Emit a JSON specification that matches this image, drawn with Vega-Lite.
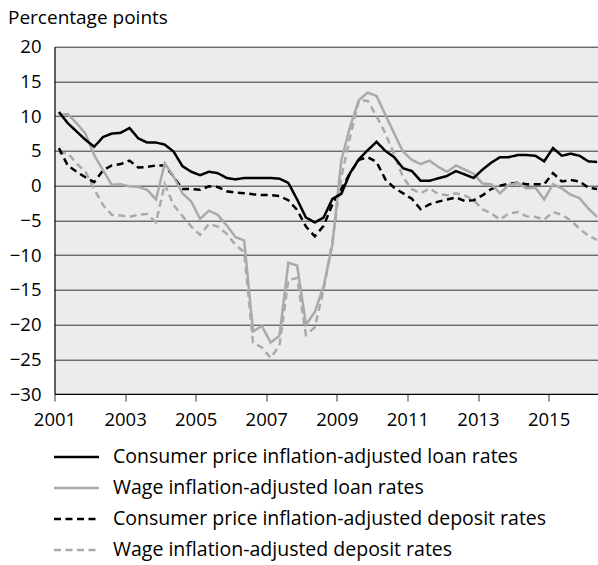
{
  "$schema": "https://vega.github.io/schema/vega-lite/v6.json",
  "autosize": {"type": "none"},
  "padding": {"top": 46.7, "left": 54.5, "right": 0, "bottom": 171},
  "width": 543.5,
  "height": 347.3,
  "background": "white",
  "config": {
    "font": "Open Sans",
    "view": {"fill": "#ececec", "stroke": null}
  },
  "data": {
    "values": [
      {"t": 2001.125, "cpl": 10.6, "wl": 10.2, "cpd": 5.4, "wd": 4.7},
      {"t": 2001.375, "cpl": 9.0, "wl": 10.3, "cpd": 2.9, "wd": 4.7},
      {"t": 2001.625, "cpl": 7.8, "wl": 9.0, "cpd": 2.0, "wd": 3.2},
      {"t": 2001.875, "cpl": 6.6, "wl": 7.5, "cpd": 1.2, "wd": 2.0},
      {"t": 2002.125, "cpl": 5.6, "wl": 4.4, "cpd": 0.5, "wd": -0.5},
      {"t": 2002.375, "cpl": 7.0, "wl": 2.2, "cpd": 2.2, "wd": -2.8},
      {"t": 2002.625, "cpl": 7.5, "wl": 0.1, "cpd": 2.9, "wd": -4.2},
      {"t": 2002.875, "cpl": 7.6, "wl": 0.2, "cpd": 3.1, "wd": -4.3},
      {"t": 2003.125, "cpl": 8.3, "wl": -0.1, "cpd": 3.6, "wd": -4.5},
      {"t": 2003.375, "cpl": 6.8, "wl": -0.2, "cpd": 2.6, "wd": -4.2},
      {"t": 2003.625, "cpl": 6.2, "wl": -0.6, "cpd": 2.7, "wd": -4.1},
      {"t": 2003.875, "cpl": 6.2, "wl": -2.0, "cpd": 2.9, "wd": -5.3},
      {"t": 2004.125, "cpl": 5.9, "wl": 3.2, "cpd": 2.9, "wd": 0.2},
      {"t": 2004.375, "cpl": 4.9, "wl": 1.3, "cpd": 1.3, "wd": -2.8},
      {"t": 2004.625, "cpl": 2.8, "wl": -1.1, "cpd": -0.5, "wd": -4.4},
      {"t": 2004.875, "cpl": 2.0, "wl": -2.3, "cpd": -0.5, "wd": -5.9},
      {"t": 2005.125, "cpl": 1.5, "wl": -4.8, "cpd": -0.6, "wd": -7.1},
      {"t": 2005.375, "cpl": 2.0, "wl": -3.6, "cpd": -0.1, "wd": -5.5},
      {"t": 2005.625, "cpl": 1.8, "wl": -4.2, "cpd": -0.2, "wd": -5.9},
      {"t": 2005.875, "cpl": 1.1, "wl": -5.7, "cpd": -0.8, "wd": -6.9},
      {"t": 2006.125, "cpl": 0.9, "wl": -7.4, "cpd": -1.0, "wd": -8.5},
      {"t": 2006.375, "cpl": 1.1, "wl": -7.9, "cpd": -1.1, "wd": -9.6},
      {"t": 2006.625, "cpl": 1.1, "wl": -21.0, "cpd": -1.25, "wd": -22.6},
      {"t": 2006.875, "cpl": 1.1, "wl": -20.2, "cpd": -1.35, "wd": -23.3},
      {"t": 2007.125, "cpl": 1.1, "wl": -22.6, "cpd": -1.35, "wd": -24.8},
      {"t": 2007.375, "cpl": 1.0, "wl": -21.6, "cpd": -1.5, "wd": -23.0},
      {"t": 2007.625, "cpl": 0.4, "wl": -11.1, "cpd": -2.1, "wd": -13.6},
      {"t": 2007.875, "cpl": -2.0, "wl": -11.5, "cpd": -3.5, "wd": -13.3},
      {"t": 2008.125, "cpl": -4.6, "wl": -20.0, "cpd": -5.9, "wd": -21.5},
      {"t": 2008.375, "cpl": -5.3, "wl": -18.2, "cpd": -7.3, "wd": -20.4},
      {"t": 2008.625, "cpl": -4.6, "wl": -14.5, "cpd": -5.8, "wd": -15.0},
      {"t": 2008.875, "cpl": -1.9, "wl": -8.5, "cpd": -2.7, "wd": -8.0},
      {"t": 2009.125, "cpl": -1.2, "wl": 3.6, "cpd": -0.5, "wd": 1.2},
      {"t": 2009.375, "cpl": 1.8, "wl": 8.5, "cpd": 1.8, "wd": 7.0},
      {"t": 2009.625, "cpl": 3.8, "wl": 12.3, "cpd": 3.7, "wd": 12.3},
      {"t": 2009.875, "cpl": 5.1, "wl": 13.4, "cpd": 4.1, "wd": 12.2},
      {"t": 2010.125, "cpl": 6.3, "wl": 12.9, "cpd": 3.4, "wd": 10.0},
      {"t": 2010.375, "cpl": 5.0, "wl": 10.2, "cpd": 0.9, "wd": 7.5},
      {"t": 2010.625, "cpl": 4.1, "wl": 7.5, "cpd": -0.3, "wd": 4.5},
      {"t": 2010.875, "cpl": 2.5, "wl": 4.9, "cpd": -1.1, "wd": 1.2},
      {"t": 2011.125, "cpl": 2.1, "wl": 3.7, "cpd": -1.9, "wd": -0.5},
      {"t": 2011.375, "cpl": 0.7, "wl": 3.1, "cpd": -3.4, "wd": -1.1},
      {"t": 2011.625, "cpl": 0.7, "wl": 3.6, "cpd": -2.7, "wd": -0.4},
      {"t": 2011.875, "cpl": 1.05, "wl": 2.7, "cpd": -2.3, "wd": -1.2},
      {"t": 2012.125, "cpl": 1.4, "wl": 2.0, "cpd": -2.0, "wd": -1.4},
      {"t": 2012.375, "cpl": 2.1, "wl": 2.9, "cpd": -1.7, "wd": -1.1},
      {"t": 2012.625, "cpl": 1.6, "wl": 2.3, "cpd": -2.2, "wd": -1.4},
      {"t": 2012.875, "cpl": 1.1, "wl": 1.7, "cpd": -2.1, "wd": -2.1},
      {"t": 2013.125, "cpl": 2.3, "wl": 0.3, "cpd": -1.4, "wd": -3.4},
      {"t": 2013.375, "cpl": 3.3, "wl": 0.2, "cpd": -0.5, "wd": -4.0},
      {"t": 2013.625, "cpl": 4.1, "wl": -1.1, "cpd": 0.0, "wd": -4.9},
      {"t": 2013.875, "cpl": 4.1, "wl": 0.1, "cpd": 0.3, "wd": -4.0},
      {"t": 2014.125, "cpl": 4.4, "wl": 0.4, "cpd": 0.4, "wd": -3.8},
      {"t": 2014.375, "cpl": 4.4, "wl": -0.4, "cpd": 0.2, "wd": -4.4},
      {"t": 2014.625, "cpl": 4.3, "wl": -0.3, "cpd": 0.2, "wd": -4.5},
      {"t": 2014.875, "cpl": 3.5, "wl": -2.0, "cpd": 0.2, "wd": -4.9},
      {"t": 2015.125, "cpl": 5.4, "wl": 0.2, "cpd": 1.8, "wd": -3.8},
      {"t": 2015.375, "cpl": 4.3, "wl": -0.4, "cpd": 0.6, "wd": -4.2},
      {"t": 2015.625, "cpl": 4.6, "wl": -1.3, "cpd": 0.8, "wd": -5.0},
      {"t": 2015.875, "cpl": 4.3, "wl": -1.8, "cpd": 0.6, "wd": -6.2},
      {"t": 2016.125, "cpl": 3.5, "wl": -3.3, "cpd": -0.3, "wd": -7.2},
      {"t": 2016.375, "cpl": 3.4, "wl": -4.5, "cpd": -0.5, "wd": -7.8}
    ]
  },
  "transform": [
    {"fold": ["cpl", "wl", "cpd", "wd"], "as": ["series", "value"]}
  ],
  "encoding": {
    "x": {
      "field": "t", "type": "quantitative",
      "scale": {"domain": [2001, 2016.4], "nice": false, "zero": false},
      "axis": {
        "values": [2001, 2003, 2005, 2007, 2009, 2011, 2013, 2015],
        "format": "d", "grid": false, "title": null,
        "domainColor": "#000", "domainWidth": 1.2,
        "tickColor": "#555", "tickSize": 7, "tickWidth": 1.2,
        "labelFontSize": 18.5, "labelColor": "#000", "labelPadding": 9,
        "labelFlush": false, "labelOverlap": false
      }
    },
    "y": {
      "field": "value", "type": "quantitative",
      "scale": {"domain": [-30, 20], "nice": false},
      "axis": {
        "values": [-30, -25, -20, -15, -10, -5, 0, 5, 10, 15, 20],
        "grid": true, "gridColor": "#333", "gridWidth": 1,
        "domainColor": "#000", "domainWidth": 1.2, "ticks": false,
        "labelFontSize": 18.5, "labelColor": "#000", "labelPadding": 13.5,
        "labelFlush": false, "labelOverlap": false,
        "title": "Percentage points", "titleAngle": 0, "titleAlign": "left",
        "titleBaseline": "alphabetic", "titleX": -47, "titleY": -23.5,
        "titleFontSize": 19, "titleFontWeight": "normal", "titleColor": "#000"
      }
    },
    "color": {
      "field": "series", "type": "nominal",
      "scale": {"domain": ["cpl", "wl", "cpd", "wd"], "range": ["#000000", "#aaaaaa", "#000000", "#aaaaaa"]},
      "legend": {
        "title": null, "orient": "none", "legendX": 11.5, "legendY": 399.8,
        "direction": "vertical", "padding": 0,
        "symbolType": "M-2.5,0H2.5", "symbolSize": 324, "symbolStrokeWidth": 2.5,
        "labelOffset": 26, "rowPadding": 11,
        "labelFontSize": 19.5, "labelColor": "#000", "labelLimit": 0,
        "labelExpr": "{'cpl': 'Consumer price inflation-adjusted loan rates', 'wl': 'Wage inflation-adjusted loan rates', 'cpd': 'Consumer price inflation-adjusted deposit rates', 'wd': 'Wage inflation-adjusted deposit rates'}[datum.value]"
      }
    },
    "strokeDash": {
      "field": "series", "type": "nominal",
      "scale": {"domain": ["cpl", "wl", "cpd", "wd"], "range": [[1, 0], [1, 0], [7, 4.5], [7, 4.5]]},
      "legend": {
        "title": null, "orient": "none", "legendX": 11.5, "legendY": 399.8,
        "direction": "vertical", "padding": 0,
        "symbolType": "M-2.5,0H2.5", "symbolSize": 324, "symbolStrokeWidth": 2.5,
        "labelOffset": 26, "rowPadding": 11,
        "labelFontSize": 19.5, "labelColor": "#000", "labelLimit": 0,
        "labelExpr": "{'cpl': 'Consumer price inflation-adjusted loan rates', 'wl': 'Wage inflation-adjusted loan rates', 'cpd': 'Consumer price inflation-adjusted deposit rates', 'wd': 'Wage inflation-adjusted deposit rates'}[datum.value]"
      }
    }
  },
  "layer": [
    {"transform": [{"filter": "datum.series == 'wd'"}], "mark": {"type": "line", "strokeWidth": 2.5}},
    {"transform": [{"filter": "datum.series == 'cpd'"}], "mark": {"type": "line", "strokeWidth": 2.5}},
    {"transform": [{"filter": "datum.series == 'wl'"}], "mark": {"type": "line", "strokeWidth": 2.5}},
    {"transform": [{"filter": "datum.series == 'cpl'"}], "mark": {"type": "line", "strokeWidth": 2.5}}
  ]
}
